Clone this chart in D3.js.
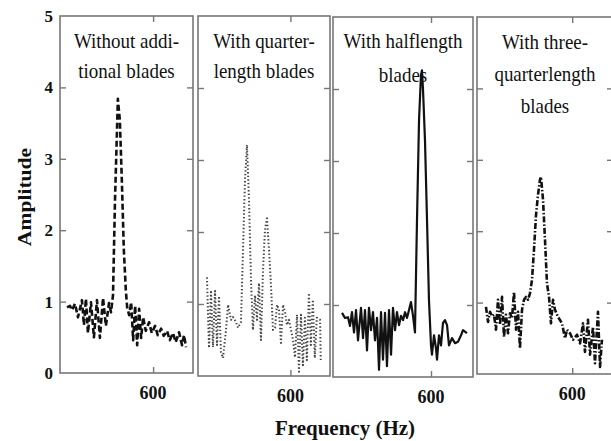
<!DOCTYPE html>
<html lang="en">
<head>
  <meta charset="UTF-8">
  <title>Amplitude vs frequency</title>
  <style>
    body { margin: 0; background: #fff; }
    svg text { font-family: "Liberation Serif", "Times New Roman", serif; fill: #111; }
  </style>
</head>
<body>
  <svg></svg>
  <script src="https://cdn.jsdelivr.net/npm/d3@7/dist/d3.min.js"></script>
  <script>
    // panel titles, one array of lines per panel
    var titles = [
      ["Without addi-", "tional blades"],
      ["With quarter-", "length blades"],
      ["With halflength", "blades"],
      ["With three-", "quarterlength", "blades"]
    ];
    var yTicks = [0, 1, 2, 3, 4, 5];
    var xTicks = [600];

    // without additional blades
    var freq1 = [470.5, 475, 478, 482.6, 487, 493, 496, 499, 502, 506.6, 511, 515.6, 520, 524.7, 529, 533.7, 536.7,
      539.7, 542.7, 545.7, 547, 550, 553, 556, 559, 561, 564, 567, 570, 573, 576, 579, 582, 585, 589, 594, 598,
      603, 607, 612, 616, 621, 625, 630, 634, 639, 643.5, 646.5, 649.5];
    var amp1 = [0.92, 0.94, 0.88, 0.97, 0.78, 1.02, 0.67, 1.04, 0.56, 0.99, 0.50, 1.02, 0.49, 1.05, 0.66, 0.98, 0.85,
      1.09, 2.42, 3.40, 3.84, 3.54, 2.70, 1.72, 1.16, 0.92, 0.81, 0.99, 0.46, 0.94, 0.39, 0.90, 0.49, 0.78, 0.59, 0.71, 0.56,
      0.66, 0.53, 0.62, 0.52, 0.59, 0.46, 0.56, 0.43, 0.57, 0.39, 0.53, 0.36];

    // quarter-length blades
    var freq2 = [473.6, 476.7, 479.7, 482.7, 485.8, 488.8, 491.8, 494.8, 497.9, 502.4, 505.5, 510, 513, 517.6, 520.6,
      525.1, 528.2, 531.2, 534.2, 537.3, 540.3, 543.3, 546.4, 549.4, 552.4, 555.4, 558.5, 561.5, 564.5, 567.6, 570.6,
      573.6, 576.7, 579.7, 582.7, 585.7, 588.8, 591.8, 594.8, 597.9, 600.9, 603.9, 607, 610, 613, 616, 619, 622, 625,
      628, 631, 634, 637, 640, 645, 646];
    var amp2 = [1.37, 0.39, 1.19, 0.40, 1.18, 0.43, 1.11, 0.33, 0.25, 0.64, 0.99, 0.78, 0.82, 0.75, 0.67,
      0.75, 1.75, 2.72, 3.21, 2.44, 1.33, 0.64, 1.12, 0.78, 1.29, 0.50, 1.47, 2.03, 2.19, 1.75, 1.26,
      0.64, 0.67, 0.99, 0.92, 0.46, 0.99, 0.89, 0.71, 0.78, 0.64, 0.50, 0.26, 0.85, 0.06, 0.85, 0.15, 0.81, 0.22,
      1.15, 0.43, 1.06, 0.25, 0.81, 0.78, 0.19];

    // half-length blades
    var freq3 = [472.9, 477.1, 481.4, 484.3, 487.1, 490, 492.9, 495.7, 500, 502.9, 505.7, 508.6, 511.4, 514.3, 517.1,
      520, 522.9, 525.7, 528.6, 531.4, 534.3, 537.1, 540, 542.9, 545.7, 548.6, 551.4, 554.3, 557.1, 560, 562.9, 565.7,
      568.6, 571.4, 574.3, 577.1, 580, 582.9, 585.7, 587.1, 588.6, 591.4, 594.3, 597.1, 600, 601.4, 604.3, 607.1,
      608.6, 611.4, 614.3, 617.1, 620, 622.9, 625.7, 630, 634.3, 638.6, 642.9, 645.7, 651.4];
    var amp3 = [0.89, 0.82, 0.83, 0.71, 0.90, 0.62, 0.93, 0.51, 0.96, 0.54, 0.93, 0.37, 0.96, 0.65, 0.90,
      0.51, 0.82, 0.10, 0.90, 0.24, 0.89, 0.15, 0.93, 0.31, 0.96, 0.65, 0.90, 0.72, 0.85, 0.79, 0.90, 0.82,
      0.93, 1.04, 0.85, 0.62, 2.18, 3.57, 4.19, 4.26, 3.99, 3.29, 2.18, 1.07, 0.44, 0.31, 0.58, 0.40,
      0.24, 0.58, 0.44, 0.75, 0.79, 0.72, 0.44, 0.54, 0.47, 0.49, 0.58, 0.65, 0.61];

    // three-quarter-length blades
    var freq4 = [473.2, 476.2, 479.1, 482.1, 485, 487.9, 490.9, 493.8, 496.8, 499.7, 502.6, 505.6, 508.5, 511.5, 514.4,
      517.4, 520.3, 523.2, 526.2, 529.1, 532.1, 535, 537.9, 540.9, 543.8, 546.8, 549.7, 552.6, 554.1, 557.1, 560,
      562.9, 565.9, 568.8, 571.8, 574.7, 579.1, 585, 589.4, 592.4, 596.8, 601.2, 607.1, 611.5, 615.9, 618.8, 623.2,
      626.2, 630.6, 633.5, 637.9, 640.9, 643.8];
    var amp4 = [0.94, 0.73, 0.87, 0.81, 0.83, 0.62, 1.04, 0.69, 1.08, 0.52, 0.83, 0.57, 0.85, 0.78, 1.15,
      0.62, 0.87, 0.36, 0.90, 1.04, 1.08, 1.04, 1.13, 1.32, 1.74, 2.23, 2.51, 2.72, 2.76, 2.44, 1.88,
      1.27, 1.08, 0.71, 1.04, 0.90, 0.80, 0.71, 0.50, 0.62, 0.57, 0.48, 0.55, 0.43, 0.71, 0.31, 0.76,
      0.27, 0.66, 0.15, 0.87, 0.10, 0.48];

    var series = [[freq1, amp1], [freq2, amp2], [freq3, amp3], [freq4, amp4]];

    // layout of the four pasted panels (they are not quite aligned)
    var frames = [
      {left: 60, right: 193, top: 16, bottom: 373, titleY: 48, gap: 30},
      {left: 198, right: 330, top: 16, bottom: 376, titleY: 48, gap: 30},
      {left: 333, right: 473, top: 17, bottom: 377, titleY: 48, gap: 34},
      {left: 477, right: 613, top: 17, bottom: 374, titleY: 49, gap: 32}
    ];
    var lineStyles = [
      {color: "#111", width: 2.6, dash: "6,3"},
      {color: "#444", width: 2, dash: "1.4,2.2"},
      {color: "#111", width: 2.2, dash: null},
      {color: "#111", width: 2.6, dash: "6,2,1.5,2"}
    ];

    var svg = d3.select("svg")
      .attr("width", 611)
      .attr("height", 441);

    frames.forEach(function(f, i) {
      var x = d3.scaleLinear().domain([460, 660]).range([f.left, f.right]);
      var y = d3.scaleLinear().domain([0, 5]).range([f.bottom, f.top]);
      var g = svg.append("g");

      // ticks on all four sides, pointing inward
      g.append("g").attr("transform", `translate(${f.left},0)`)
        .call(d3.axisRight(y).tickValues(yTicks.slice(1, 5)).tickSize(6).tickFormat(""));
      g.append("g").attr("transform", `translate(${f.right},0)`)
        .call(d3.axisLeft(y).tickValues(yTicks.slice(1, 5)).tickSize(6).tickFormat(""));
      g.append("g").attr("transform", `translate(0,${f.top})`)
        .call(d3.axisBottom(x).tickValues(xTicks).tickSize(6).tickFormat(""));
      g.append("g").attr("transform", `translate(0,${f.bottom})`)
        .call(d3.axisTop(x).tickValues(xTicks).tickSize(6).tickFormat(""));
      g.selectAll(".domain").remove();
      g.selectAll(".tick line").attr("stroke", "#777").attr("stroke-width", 1.4);

      g.append("rect")
        .attr("x", f.left).attr("y", f.top)
        .attr("width", f.right - f.left).attr("height", f.bottom - f.top)
        .attr("fill", "none").attr("stroke", "#777").attr("stroke-width", 1.6);

      // 600 label under each panel
      g.selectAll(".xlab").data(xTicks).join("text")
        .attr("x", d => x(d)).attr("y", f.bottom + 26)
        .attr("text-anchor", "middle")
        .attr("font-size", 18).attr("font-weight", "bold")
        .text(d => d);

      // title lines
      titles[i].forEach(function(t, k) {
        g.append("text")
          .attr("transform", `translate(${(f.left + Math.min(f.right, 613)) / 2},${f.titleY + k * f.gap}) scale(1,1.12)`)
          .attr("text-anchor", "middle")
          .attr("font-size", 19)
          .text(t);
      });

      var st = lineStyles[i];
      var pts = d3.zip(series[i][0], series[i][1]);
      g.append("path")
        .datum(pts)
        .attr("fill", "none")
        .attr("stroke", st.color)
        .attr("stroke-width", st.width)
        .attr("stroke-dasharray", st.dash)
        .attr("stroke-linejoin", "round")
        .attr("d", d3.line().x(d => x(d[0])).y(d => y(d[1])));

      // y labels only on the first panel
      if (i === 0) {
        svg.selectAll(".ylab").data(yTicks).join("text")
          .attr("class", "ylab")
          .attr("x", 53).attr("y", d => y(d))
          .attr("dy", "0.35em")
          .attr("text-anchor", "end")
          .attr("font-size", 17).attr("font-weight", "bold")
          .text(d => d);
      }
    });

    svg.append("text")
      .attr("transform", "translate(31,197) scale(1,1.2) rotate(-90)")
      .attr("text-anchor", "middle")
      .attr("font-size", 18).attr("font-weight", "bold")
      .text("Amplitude");

    svg.append("text")
      .attr("x", 345).attr("y", 435)
      .attr("text-anchor", "middle")
      .attr("font-size", 21).attr("font-weight", "bold")
      .text("Frequency (Hz)");
  </script>
</body>
</html>
